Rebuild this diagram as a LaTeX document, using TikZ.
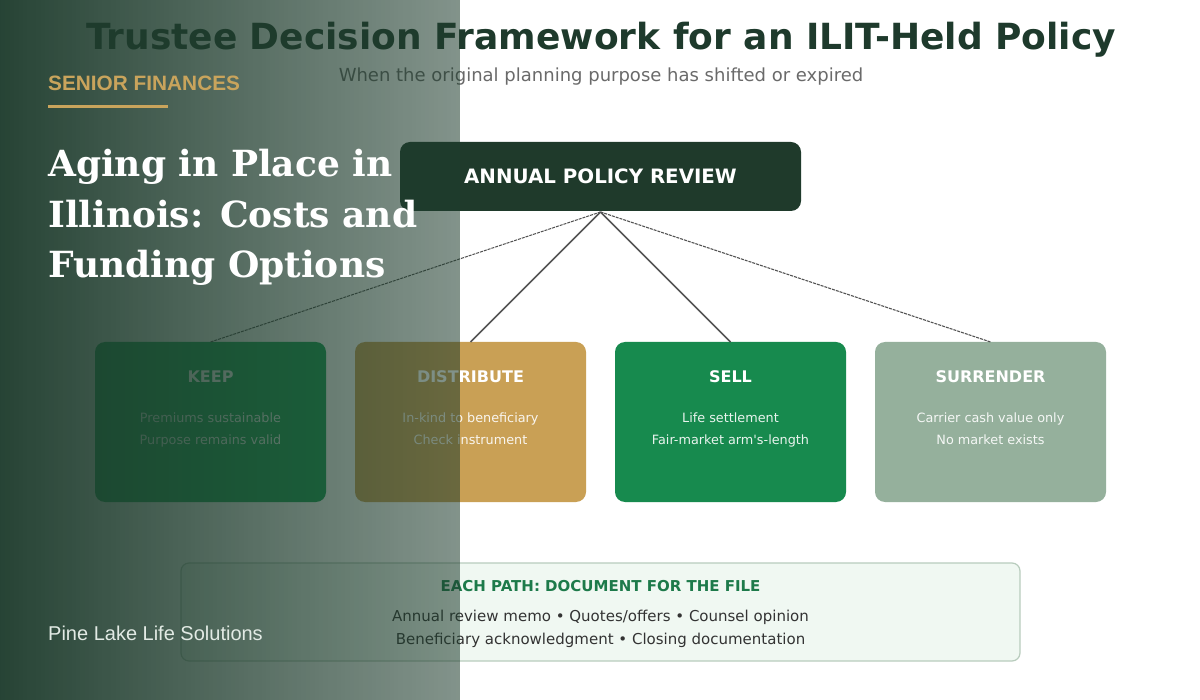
\documentclass[tikz,border=0pt]{standalone}
\usepackage{fontspec}
\usetikzlibrary{fadings}
\newfontfamily\djs{DejaVu Sans}
\newfontfamily\djserif{DejaVu Serif}
\newfontfamily\libs{Liberation Sans}
\definecolor{titlegreen}{HTML}{1E3A2C}
\definecolor{subgray}{HTML}{6A6A6A}
\definecolor{reviewfill}{HTML}{1F3A2B}
\definecolor{keepfill}{HTML}{14A052}
\definecolor{distfill}{HTML}{C9A055}
\definecolor{sellfill}{HTML}{178A4E}
\definecolor{surrfill}{HTML}{95B09C}
\definecolor{linegray}{HTML}{555555}
\definecolor{docfill}{HTML}{F0F8F2}
\definecolor{docborder}{HTML}{B8CCBD}
\definecolor{doctitle}{HTML}{1D7A4A}
\definecolor{doctext}{HTML}{333333}
\definecolor{panelcol}{HTML}{1E3C2D}
\definecolor{gold}{HTML}{C9A45C}
\definecolor{paleft}{HTML}{E2EAE4}
\tikzfading[name=panelfade, left color=transparent!4, right color=transparent!45]
\tikzset{
  optbox/.style={rounded corners=10pt, draw=none},
  opttitle/.style={anchor=base, text=white, font=\djs\bfseries\fontsize{16}{19}\selectfont, inner sep=0pt},
  optline/.style={anchor=base, text=white, text opacity=0.9, font=\djs\fontsize{12.8}{15}\selectfont, inner sep=0pt},
  mainlink/.style={draw=linegray, line width=1.6pt},
  sidelink/.style={draw=linegray, line width=1.1pt, dash pattern=on 3pt off 1pt},
  doctxt/.style={anchor=base, text=doctext, font=\djs\fontsize{15}{18}\selectfont, inner sep=0pt},
  heading/.style={anchor=base west, text=white, font=\djserif\bfseries\fontsize{36}{44}\selectfont, inner sep=0pt}
}
\begin{document}
\begin{tikzpicture}[x=1pt,y=-1pt]
\useasboundingbox (0,0) rectangle (1200,700);
\fill[white] (0,0) rectangle (1200,700);
% title
\node[anchor=base, text=titlegreen, font=\djs\bfseries\fontsize{36}{40}\selectfont, inner sep=0pt] (title) at (601,49.5) {Trustee Decision Framework for an ILIT-Held Policy};
\node[anchor=base, text=subgray, font=\djs\fontsize{18}{20}\selectfont, inner sep=0pt] (subtitle) at (601,82) {When the original planning purpose has shifted or expired};
% review box
\fill[reviewfill, optbox] (400,142) rectangle (801,211);
\node[anchor=base, text=white, font=\djs\bfseries\fontsize{19.8}{22}\selectfont, inner sep=0pt] (reviewtxt) at (600.5,183.5) {ANNUAL POLICY REVIEW};
\coordinate (rev) at (600.5,212);
% option boxes
\fill[keepfill, optbox] (95,342) rectangle (326,502);
\fill[distfill, optbox] (355,342) rectangle (586,502);
\fill[sellfill, optbox] (615,342) rectangle (846,502);
\fill[surrfill, optbox] (875,342) rectangle (1106,502);
\coordinate (keep) at (210.5,342);
\coordinate (dist) at (470.5,342);
\coordinate (sell) at (730.5,342);
\coordinate (surr) at (990.5,342);
\draw[sidelink] (rev) -- (keep);
\draw[mainlink] (rev) -- (dist);
\draw[mainlink] (rev) -- (sell);
\draw[sidelink] (rev) -- (surr);
\node[opttitle] (keept) at (210.5,383) {KEEP};
\node[optline] (keep1) at (210.5,422.5) {Premiums sustainable};
\node[optline] (keep2) at (210.5,444.5) {Purpose remains valid};
\node[opttitle] (distt) at (470.5,383) {DISTRIBUTE};
\node[optline] (dist1) at (470.5,422.5) {In-kind to beneficiary};
\node[optline] (dist2) at (470.5,444.5) {Check instrument};
\node[opttitle] (sellt) at (730.5,383) {SELL};
\node[optline] (sell1) at (730.5,422.5) {Life settlement};
\node[optline] (sell2) at (730.5,444.5) {Fair-market arm's-length};
\node[opttitle] (surrt) at (990.5,383) {SURRENDER};
\node[optline] (surr1) at (990.5,422.5) {Carrier cash value only};
\node[optline] (surr2) at (990.5,444.5) {No market exists};
% documentation box
\draw[fill=docfill, draw=docborder, line width=1.2pt, rounded corners=8pt] (181,563) rectangle (1020,661);
\node[anchor=base, text=doctitle, font=\djs\bfseries\fontsize{15}{18}\selectfont, inner sep=0pt] (doct) at (600.5,591.5) {EACH PATH: DOCUMENT FOR THE FILE};
\node[doctxt] (doc1) at (600.5,621.5) {Annual review memo • Quotes/offers • Counsel opinion};
\node[doctxt] (doc2) at (600.5,644.5) {Beneficiary acknowledgment • Closing documentation};
% left overlay panel
\fill[panelcol, path fading=panelfade] (0,0) rectangle (460,700);
\node[anchor=base west, text=gold, font=\libs\bfseries\fontsize{20.8}{24}\selectfont, inner sep=0pt] (kicker) at (48,91) {SENIOR FINANCES};
\draw[gold, line width=3pt] (48,107) -- (168,107);
\node[heading] (h1) at (48,177) {Aging in Place in};
\node[heading] (h2) at (48,228) {Illinois: Costs and};
\node[heading] (h3) at (48,278) {Funding Options};
\node[anchor=base west, text=paleft, font=\libs\fontsize{20}{24}\selectfont, inner sep=0pt] (brand) at (48,640) {Pine Lake Life Solutions};
\end{tikzpicture}
\end{document}
